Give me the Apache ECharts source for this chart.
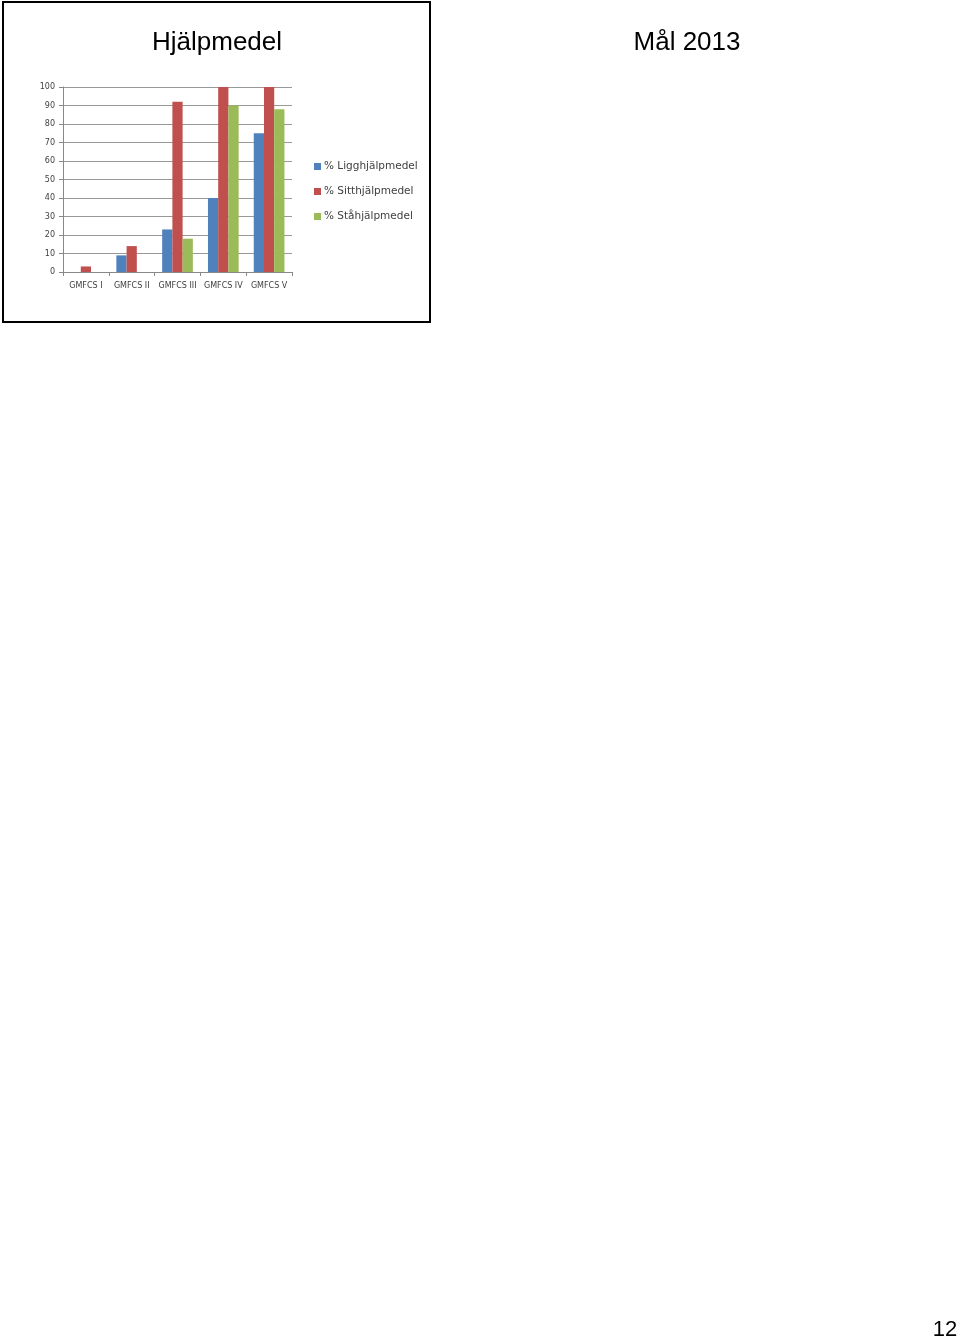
<!DOCTYPE html>
<html>
<head>
<meta charset="utf-8">
<script src="https://cdn.jsdelivr.net/npm/echarts@6/dist/echarts.min.js"></script>
<style>
  html, body { margin: 0; padding: 0; background: #fff; }
  #page { width: 960px; height: 1340px; }
</style>
</head>
<body>
<div id="page"></div>
<script>
// data
const categories = ['GMFCS I', 'GMFCS II', 'GMFCS III', 'GMFCS IV', 'GMFCS V'];
const ligg = [0, 9, 23, 40, 75];
const sitt = [3, 14, 92, 100, 100];
const sta = [0, 0, 18, 90, 88];
const seriesNames = ['% Ligghjälpmedel', '% Sitthjälpmedel', '% Ståhjälpmedel'];
const colors = ['#4F81BD', '#C0504D', '#9BBB59'];

const chart = echarts.init(document.getElementById('page'));

const font = 'Liberation Sans, Arial, sans-serif';
const small = { fontFamily: 'DejaVu Sans, sans-serif', fontSize: 8, color: '#404040' };

const option = {
  animation: false,
  color: colors,
  textStyle: { fontFamily: font },
  graphic: [
    { type: 'rect', shape: { x: 3, y: 2, width: 427, height: 320 },
      style: { fill: 'none', stroke: '#000', lineWidth: 2 } },
    { type: 'text', x: 217, y: 43, style: { text: 'Hjälpmedel', font: '26px Liberation Sans, Arial, sans-serif', fill: '#000', textAlign: 'center', textVerticalAlign: 'middle' } },
    { type: 'text', x: 687, y: 43, style: { text: 'Mål 2013', font: '26px Liberation Sans, Arial, sans-serif', fill: '#000', textAlign: 'center', textVerticalAlign: 'middle' } },
    { type: 'text', x: 945, y: 1330, style: { text: '12', font: '22px Liberation Sans, Arial, sans-serif', fill: '#000', textAlign: 'center', textVerticalAlign: 'middle' } }
  ],
  legend: {
    orient: 'vertical',
    left: 309,
    top: 156,
    itemWidth: 7,
    itemHeight: 7,
    itemGap: 14,
    icon: 'rect',
    textStyle: { fontFamily: 'DejaVu Sans, sans-serif', fontSize: 10.5, color: '#404040', padding: [0, 0, 0, -2] },
    data: seriesNames
  },
  grid: { left: 63, top: 87, width: 229, height: 185 },
  xAxis: {
    type: 'category',
    data: categories,
    axisLine: { lineStyle: { color: '#888' } },
    axisTick: { show: true, alignWithLabel: false, length: 4, lineStyle: { color: '#888' } },
    axisLabel: Object.assign({ margin: 10, interval: 0 }, small)
  },
  yAxis: {
    type: 'value',
    min: 0,
    max: 100,
    interval: 10,
    axisLine: { show: true, lineStyle: { color: '#888' } },
    axisTick: { show: true, length: 4, lineStyle: { color: '#888' } },
    axisLabel: Object.assign({ margin: 8 }, small),
    splitLine: { lineStyle: { color: '#999', width: 1 } }
  },
  series: [
    { name: seriesNames[0], type: 'bar', data: ligg, barGap: '0%', barCategoryGap: '33%' },
    { name: seriesNames[1], type: 'bar', data: sitt, barGap: '0%', barCategoryGap: '33%' },
    { name: seriesNames[2], type: 'bar', data: sta, barGap: '0%', barCategoryGap: '33%' }
  ]
};

chart.setOption(option);
</script>
</body>
</html>
